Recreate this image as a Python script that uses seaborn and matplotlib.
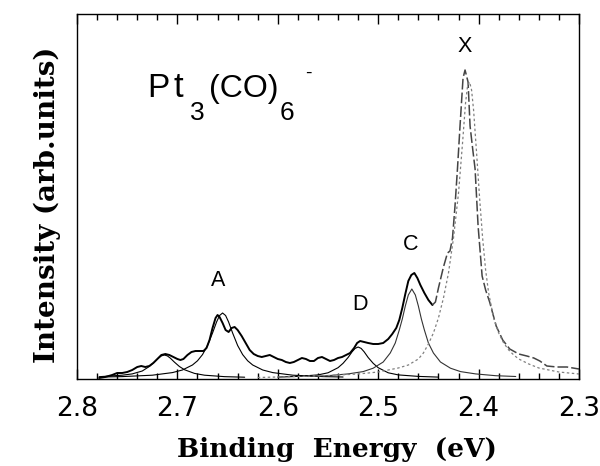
import numpy as np
import pandas as pd
import matplotlib
matplotlib.use("Agg")
import matplotlib.pyplot as plt
from matplotlib.ticker import MultipleLocator, FormatStrFormatter
import seaborn as sns

# ---------------- data ----------------
# measured spectrum: binding energy (eV) / intensity (arb. units)
spec_E = [2.778, 2.772, 2.765, 2.760, 2.755, 2.750, 2.745, 2.740, 2.736, 2.732,
          2.728, 2.724, 2.720, 2.716, 2.712, 2.708, 2.704, 2.700, 2.697, 2.694,
          2.690, 2.686, 2.682, 2.678, 2.674, 2.671, 2.668, 2.665, 2.662, 2.660,
          2.658, 2.655, 2.652, 2.649, 2.646, 2.643, 2.640, 2.636, 2.632, 2.628,
          2.624, 2.620, 2.616, 2.612, 2.608, 2.604, 2.600, 2.596, 2.592, 2.588,
          2.584, 2.580, 2.576, 2.572, 2.568, 2.564, 2.560, 2.556, 2.552, 2.548,
          2.544, 2.540, 2.536, 2.532, 2.528, 2.524, 2.521, 2.518, 2.514, 2.510,
          2.505, 2.500, 2.495, 2.490, 2.486, 2.482, 2.479, 2.476, 2.473, 2.470,
          2.467, 2.464, 2.461, 2.458, 2.454, 2.450, 2.446, 2.443, 2.440, 2.435,
          2.431, 2.4285, 2.426, 2.4235, 2.421, 2.4185, 2.4155, 2.4135, 2.4105, 2.4085,
          2.406, 2.4035, 2.4005, 2.3965, 2.393, 2.389, 2.3825, 2.376, 2.369, 2.360,
          2.352, 2.345, 2.339, 2.332, 2.322, 2.312, 2.300]
spec_I = [0, 1, 3, 5, 5, 6, 8, 11, 12, 11,
          12, 15, 19, 23, 24, 23, 21, 19, 18, 19,
          23, 26, 27, 27, 27, 30, 38, 50, 60, 63,
          61, 55, 48, 46, 50, 51, 48, 42, 35, 28,
          24, 22, 21, 22, 23, 21, 19, 18, 16, 15,
          16, 18, 20, 19, 17, 17, 20, 21, 19, 17,
          18, 20, 21, 23, 25, 30, 35, 37, 36, 35,
          34, 34, 35, 39, 44, 50, 58, 70, 84, 97,
          103, 105, 100, 93, 85, 78, 73, 76, 90, 111,
          125, 127, 140, 172, 210, 252, 300, 308, 296, 252,
          230, 209, 152, 102, 88, 76, 52, 38, 29, 24,
          22, 20, 17, 12, 11, 11, 9]

# fitted components
fitE_715 = [2.778, 2.755, 2.745, 2.735, 2.728, 2.723, 2.719, 2.716, 2.713, 2.710,
            2.707, 2.703, 2.698, 2.693, 2.683, 2.673, 2.653, 2.633]
fitI_715 = [1.3, 2.8, 4.1, 7.0, 11.5, 15.9, 19.8, 22.1, 23.0, 22.1,
            19.8, 15.9, 11.5, 8.3, 4.6, 2.8, 1.35, 0.8]

fitE_A = [2.775, 2.755, 2.725, 2.705, 2.695, 2.685, 2.680, 2.675, 2.670, 2.665,
          2.661, 2.658, 2.655, 2.652, 2.649, 2.645, 2.640, 2.635, 2.630, 2.625,
          2.615, 2.605, 2.585, 2.555, 2.535]
fitI_A = [1.0, 1.4, 2.8, 5.4, 8.0, 13.0, 17.2, 23.4, 32.5, 45.0,
          56.0, 62.5, 65.0, 62.5, 56.0, 45.0, 32.5, 23.4, 17.2, 13.0,
          8.0, 5.4, 2.8, 1.4, 1.0]

fitE_D = [2.600, 2.580, 2.560, 2.550, 2.540, 2.535, 2.530, 2.526, 2.523, 2.520,
          2.517, 2.514, 2.510, 2.505, 2.500, 2.490, 2.480, 2.460, 2.440]
fitI_D = [0.9, 1.6, 3.1, 5.2, 10.3, 14.7, 20.5, 26.2, 29.6, 31.0,
          29.6, 26.2, 20.5, 14.7, 10.3, 5.2, 3.1, 1.6, 0.9]

fitE_C = [2.570, 2.550, 2.530, 2.515, 2.505, 2.495, 2.488, 2.483, 2.479, 2.476,
          2.473, 2.470, 2.4665, 2.463, 2.460, 2.457, 2.454, 2.450, 2.445, 2.438,
          2.428, 2.418, 2.403, 2.383, 2.363]
fitI_C = [1.5, 2.3, 4.1, 6.4, 9.8, 16.0, 25.0, 35.0, 48.0, 59.0,
          72.0, 83.0, 89.0, 83.0, 72.0, 59.0, 48.0, 35.0, 25.0, 16.0,
          9.8, 6.4, 4.1, 2.3, 1.5]

fitE_X = [2.620, 2.580, 2.550, 2.520, 2.500, 2.480, 2.470, 2.460, 2.455, 2.450,
          2.445, 2.440, 2.435, 2.430, 2.425, 2.420, 2.416, 2.413, 2.411, 2.409,
          2.407, 2.405, 2.402, 2.399, 2.396, 2.393, 2.390, 2.385, 2.380, 2.375,
          2.370, 2.365, 2.360, 2.350, 2.340, 2.330, 2.320, 2.310, 2.300]
fitI_X = [0.5, 1.5, 2.5, 4.0, 6.0, 10.0, 13.0, 19.0, 25.0, 34.0,
          45.0, 60.0, 80.0, 105.0, 140.0, 185.0, 235.0, 275.0, 292.0, 296.0,
          288.0, 268.0, 225.0, 180.0, 140.0, 108.0, 85.0, 60.0, 45.0, 35.0,
          28.0, 23.0, 19.0, 14.0, 10.0, 8.0, 6.0, 5.0, 4.0]

xticks = [2.8, 2.7, 2.6, 2.5, 2.4, 2.3]
peak_labels = ["A", "D", "C", "X"]
peak_label_E = [2.659, 2.518, 2.468, 2.414]
peak_label_I = [98, 73, 134, 331]

# ---------------- figure ----------------
sns.set_style("ticks")
plt.rcParams["font.family"] = ["DejaVu Sans"]
plt.rcParams["text.color"] = "black"
plt.rcParams["axes.labelcolor"] = "black"
plt.rcParams["xtick.color"] = "black"
plt.rcParams["xtick.labelcolor"] = "black"

fig = plt.figure(figsize=(6.0, 4.66), dpi=100)
ax = fig.add_axes([77/600, 1-379/466, 502/600, 365/466])

spec = pd.DataFrame({"E": spec_E, "I": spec_I})
solid = spec[spec["E"] >= 2.4455]
dashed = spec[spec["E"] <= 2.4465]

kw = dict(ax=ax, estimator=None, sort=False, legend=False)
sns.lineplot(data=solid, x="E", y="I", color="black", linewidth=1.4, **kw)
sns.lineplot(data=dashed, x="E", y="I", color="#444444", linewidth=1.1,
             linestyle=(0, (7, 2)), **kw)

for fe, fi in [(fitE_715, fitI_715), (fitE_A, fitI_A), (fitE_D, fitI_D)]:
    sns.lineplot(x=fe, y=fi, color="black", linewidth=0.8, **kw)
sns.lineplot(x=fitE_C, y=fitI_C, color="#333333", linewidth=0.8, **kw)
sns.lineplot(x=fitE_X, y=fitI_X, color="#808080", linewidth=0.9,
             linestyle=(0, (2, 2)), **kw)

ax.set_xlim(2.8, 2.3)
ax.set_ylim(-1, 364)
ax.xaxis.set_major_locator(MultipleLocator(0.1))
ax.xaxis.set_minor_locator(MultipleLocator(0.02))
ax.set_xticks(xticks)
ax.xaxis.set_major_formatter(FormatStrFormatter("%.1f"))
ax.set_yticks([])
ax.tick_params(axis="x", which="both", direction="in", top=True, bottom=True,
               width=1.0, color="black", labelcolor="black")
ax.tick_params(axis="x", which="major", length=7, pad=12, labelsize=19)
ax.tick_params(axis="x", which="minor", length=4.5)
for s in ax.spines.values():
    s.set_linewidth(1.0)
    s.set_color("black")

serif = ["DejaVu Serif"]
ax.set_xlabel("Binding  Energy  (eV)", fontsize=19, fontweight="bold",
              family=serif, color="black")
ax.set_ylabel("Intensity (arb.units)", fontsize=20, fontweight="bold",
              family=serif, color="black")
ax.xaxis.set_label_coords(0.518, -0.159)
ax.yaxis.set_label_coords(-0.031, 0.477)

for lab, e, i in zip(peak_labels, peak_label_E, peak_label_I):
    ax.text(e, i, lab, ha="center", va="center", fontsize=15.5, color="black",
            family=["Liberation Sans", "DejaVu Sans"])

# formula label Pt3(CO)6-
sans = ["Liberation Sans", "DejaVu Sans"]
def ftext(x, y, s, size):
    fig.text(x/600, 1-y/466, s, fontsize=size, family=sans, va="baseline",
             ha="left", color="black")

ftext(147, 97, "P", 24)
ftext(174, 97, "t", 25)
ftext(190, 120, "3", 19)
ftext(209, 97, "(CO)", 23)
ftext(280, 120, "6", 19)
ftext(305, 78, "-", 14)

fig.savefig("out.png", dpi=100)
